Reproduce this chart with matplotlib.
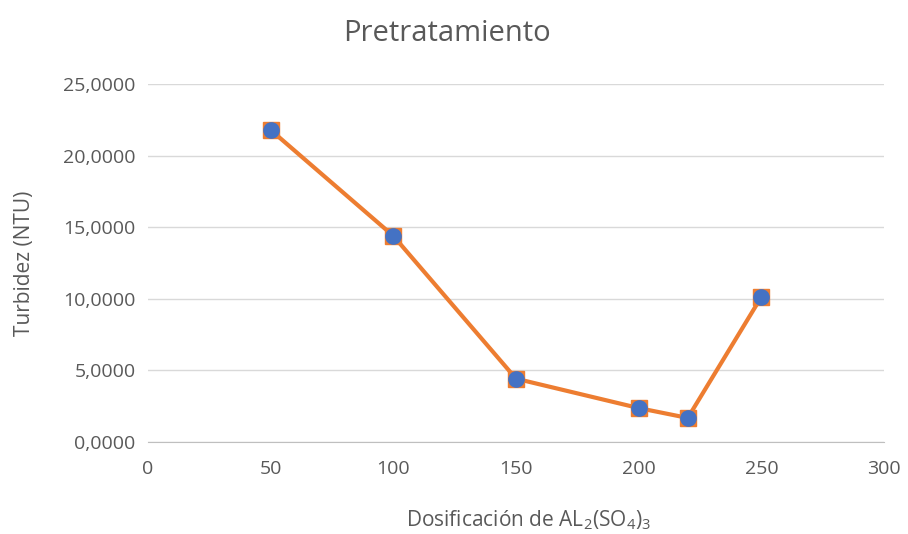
import matplotlib
matplotlib.use('Agg')
import matplotlib.pyplot as plt
from matplotlib.ticker import FuncFormatter

plt.rcParams['font.family'] = ['Open Sans', 'DejaVu Sans']
plt.rcParams['mathtext.fontset'] = 'custom'
plt.rcParams['mathtext.rm'] = 'Open Sans'
plt.rcParams['mathtext.default'] = 'regular'

dosis = [50, 100, 150, 200, 220, 250]
turbidez = [21.79, 14.39, 4.42, 2.37, 1.68, 10.13]

gris = '#595959'

fig = plt.figure(figsize=(9.08, 5.34), dpi=100)
ax = fig.add_axes([0.163, 0.1723, 0.8106, 0.6704])

ax.plot(dosis, turbidez, color='#ED7D31', lw=3, marker='s', markersize=12,
        markerfacecolor='#ED7D31', markeredgecolor='#ED7D31', zorder=3)
ax.plot(dosis, turbidez, ls='none', marker='o', markersize=11,
        color='#4472C4', zorder=4)

ax.set_xlim(0, 300)
ax.set_ylim(0, 25)
ax.set_xticks(range(0, 301, 50))
ax.set_yticks(range(0, 26, 5))
ax.yaxis.set_major_formatter(FuncFormatter(lambda v, p: ('%.4f' % v).replace('.', ',')))

ax.grid(axis='y', color='#D9D9D9', lw=1)
ax.set_axisbelow(True)
for s in ['top', 'right', 'left']:
    ax.spines[s].set_visible(False)
ax.spines['bottom'].set_color('#BFBFBF')
ax.tick_params(length=0, labelsize=14, colors=gris)
ax.tick_params(axis='x', pad=13)
ax.tick_params(axis='y', pad=9)

fig.text(447/908, 1 - 41/534, 'Pretratamiento', fontsize=21, color=gris,
         ha='center', va='baseline')
fig.text(528/908, 1 - 526/534, r'Dosificación de AL$_2$(SO$_4$)$_3$', fontsize=15,
         color=gris, ha='center', va='baseline')
fig.text(25/908, 1 - 263/534, 'Turbidez (NTU)', fontsize=15, color=gris,
         ha='center', va='center', rotation=90)

plt.savefig('out.png', dpi=100)
